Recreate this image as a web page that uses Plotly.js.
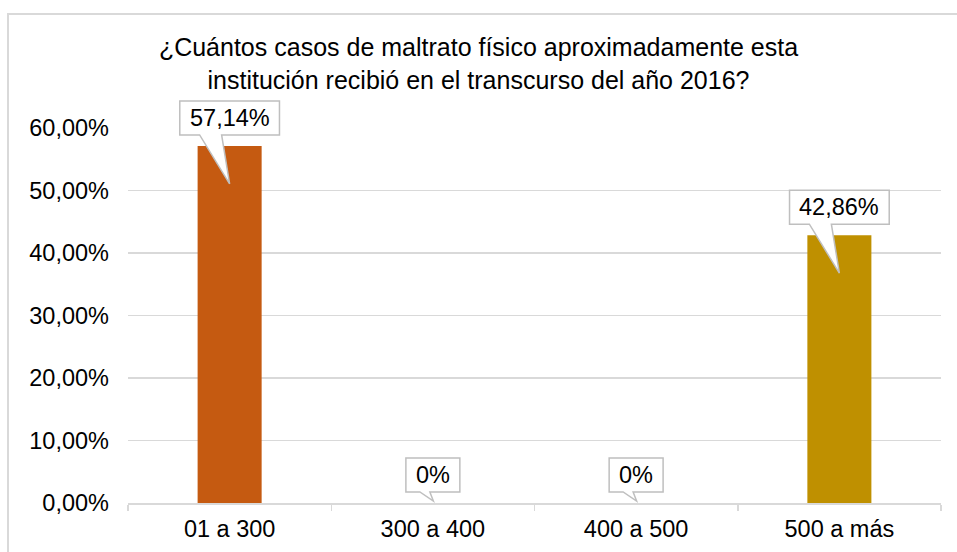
<!DOCTYPE html>
<html>
<head>
<meta charset="utf-8">
<script src="https://cdn.plot.ly/plotly-3.0.1.min.js"></script>
<style>html,body{margin:0;padding:0;background:#fff;} #chart{width:957px;height:552px;}</style>
</head>
<body>
<div id="chart"></div>
<script>
// ---- data ----
const categories = ['01 a 300', '300 a 400', '400 a 500', '500 a más'];
const values = [57.14, 0, 0, 42.86];
const valueLabels = ['57,14%', '0%', '0%', '42,86%'];
const yTickVals = [0, 10, 20, 30, 40, 50, 60];
const yTickText = ['0,00%', '10,00%', '20,00%', '30,00%', '40,00%', '50,00%', '60,00%'];
const titleText = '¿Cuántos casos de maltrato físico aproximadamente esta<br>institución recibió en el transcurso del año 2016?';

// ---- style ----
const barColors = ['#C55A11', '#7B7B7B', '#A5A5A5', '#BF9000'];
const FONT = '"Liberation Sans", Arial, sans-serif';
const LABEL_SIZE = 23.5;
const TICK_SIZE = 23.5;
const gridCol = '#d9d9d9';
const yRange = [yTickVals[0], yTickVals[yTickVals.length - 1]];

const ctx = document.createElement('canvas').getContext('2d');
ctx.font = LABEL_SIZE + 'px "Liberation Sans"';

const shapes = [];
const annotations = [];
values.forEach((v, i) => {
  const tw = ctx.measureText(valueLabels[i]).width;
  const half = tw / 2 + 10;
  const top = 45, bot = 11;
  let tip, bl, br;
  if (v > 0) { tip = [0, -38]; bl = -30; br = -8; }
  else { tip = [0.5, 2]; bl = -13; br = -3; }
  const path = `M${-half},${top} L${half},${top} L${half},${bot} L${br},${bot} L${tip[0]},${tip[1]} L${bl},${bot} L${-half},${bot} Z`;
  shapes.push({
    type: 'path', xref: 'paper', yref: 'paper', xsizemode: 'pixel', ysizemode: 'pixel',
    xanchor: (i + 0.5) / categories.length,
    yanchor: (v - yRange[0]) / (yRange[1] - yRange[0]),
    path: path,
    fillcolor: '#ffffff', line: {color: '#bfbfbf', width: 1.5}, layer: 'above'
  });
  annotations.push({
    x: i, y: v, xref: 'x', yref: 'y', yshift: 28, showarrow: false,
    text: valueLabels[i], font: {family: FONT, size: LABEL_SIZE, color: '#000'}
  });
});
// chart frame
shapes.push({
  type: 'rect', xref: 'paper', yref: 'paper',
  x0: (8 - 128) / 813, x1: 1.5, y0: -0.5, y1: 1 + (128 - 14) / 375,
  line: {color: gridCol, width: 2}, fillcolor: 'rgba(0,0,0,0)', layer: 'below'
});

const trace = {
  type: 'bar', x: categories, y: values, width: 0.315,
  marker: {color: barColors}, hoverinfo: 'none'
};

const layout = {
  width: 957, height: 552,
  margin: {l: 128, r: 16, t: 128, b: 49},
  paper_bgcolor: '#fff', plot_bgcolor: '#fff',
  showlegend: false,
  font: {family: FONT, color: '#000'},
  title: {
    text: titleText, font: {family: FONT, size: 25, color: '#000'},
    xref: 'container', x: 0.5, xanchor: 'center',
    yref: 'container', y: 1 - 56 / 552, yanchor: 'top'
  },
  xaxis: {
    type: 'category', showgrid: false, showline: true, linecolor: gridCol, linewidth: 1.5,
    ticks: 'outside', tickson: 'boundaries', ticklen: 6, tickcolor: gridCol, tickwidth: 1.5,
    ticklabelstandoff: 4,
    tickfont: {family: FONT, size: TICK_SIZE, color: '#000'}, fixedrange: true
  },
  yaxis: {
    range: yRange, tickvals: yTickVals, ticktext: yTickText,
    showgrid: true, gridcolor: gridCol, gridwidth: 1.5, zeroline: false, showline: false,
    ticks: '', ticklabelstandoff: 18,
    tickfont: {family: FONT, size: TICK_SIZE, color: '#000'}, fixedrange: true
  },
  shapes: shapes,
  annotations: annotations
};

Plotly.newPlot('chart', [trace], layout, {displayModeBar: false, staticPlot: true});
</script>
</body>
</html>
